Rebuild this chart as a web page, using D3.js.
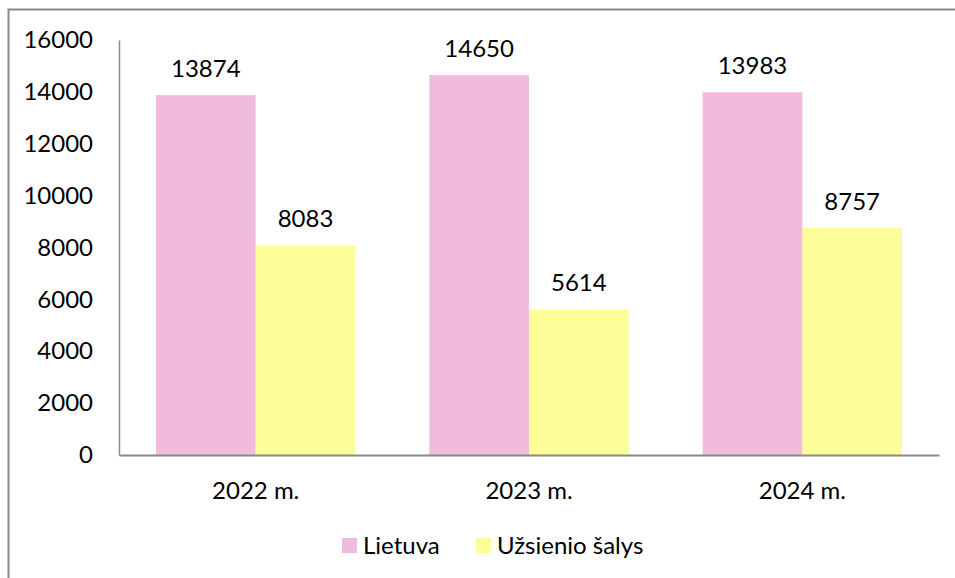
<!DOCTYPE html>
<html><head><meta charset="utf-8">
<script src="https://cdn.jsdelivr.net/npm/d3@7/dist/d3.min.js"></script>
<style>body{margin:0;background:#fff}svg{display:block}text{font-family:Lato,"Open Sans",sans-serif;fill:#000}</style>
</head><body><svg id="c" width="955" height="578"></svg>
<script>
const categories = ["2022 m.", "2023 m.", "2024 m."];
const seriesNames = ["Lietuva", "Užsienio šalys"];
const lietuva = [13874, 14650, 13983];
const uzsienio = [8083, 5614, 8757];
const yTicks = [0, 2000, 4000, 6000, 8000, 10000, 12000, 14000, 16000];
const colors = ["#F1BCDB", "#FDFD99"];
const FS = 24;

const svg = d3.select("#c");
// outer chart frame (top & left visible)
svg.append("rect").attr("x", 8.5).attr("y", 9.5).attr("width", 960).attr("height", 600)
  .attr("fill", "none").attr("stroke", "#8a8a8a").attr("stroke-width", 2);

const pLeft = 119, pRight = 939, pTop = 40, pBottom = 455;
const x = d3.scaleBand().domain(categories).range([pLeft, pRight]).paddingInner(0.2706).paddingOuter(0.1353);
const xs = d3.scaleBand().domain(seriesNames).range([0, x.bandwidth()]);
const y = d3.scaleLinear().domain([0, 16000]).range([pBottom, pTop]);

const data = categories.map((c, i) => ({cat: c, vals: [lietuva[i], uzsienio[i]]}));

const g = svg.selectAll("g.grp").data(data).join("g").attr("class", "grp")
  .attr("transform", d => `translate(${x(d.cat)},0)`);
g.selectAll("rect").data(d => d.vals.map((v, j) => ({v, s: seriesNames[j], j})))
  .join("rect")
  .attr("x", d => xs(d.s)).attr("width", xs.bandwidth())
  .attr("y", d => y(d.v)).attr("height", d => y(0) - y(d.v))
  .attr("fill", d => colors[d.j]);
g.selectAll("text.val").data(d => d.vals.map((v, j) => ({v, s: seriesNames[j]})))
  .join("text").attr("class", "val")
  .attr("x", d => xs(d.s) + xs.bandwidth() / 2).attr("y", d => y(d.v) - 18)
  .attr("text-anchor", "middle").attr("font-size", FS).text(d => d.v);

// y axis
const yAxis = d3.axisLeft(y).tickValues(yTicks).tickSize(0).tickPadding(26).tickFormat(d3.format("d"));
const ya = svg.append("g").attr("transform", `translate(${pLeft},0)`).call(yAxis);
ya.select(".domain").attr("stroke", "#8a8a8a").attr("stroke-width", 1.5);
ya.selectAll("text").attr("font-size", FS).attr("font-family", "Lato,'Open Sans',sans-serif").attr("fill", "#000");

// x axis
const xAxis = d3.axisBottom(x).tickSize(0).tickPadding(27);
const xa = svg.append("g").attr("transform", `translate(0,${pBottom})`).call(xAxis);
xa.select(".domain").attr("stroke", "#8a8a8a").attr("stroke-width", 2);
xa.selectAll("text").attr("font-size", FS).attr("font-family", "Lato,'Open Sans',sans-serif").attr("fill", "#000");

// legend
const legX = [342, 476];
const lg = svg.selectAll("g.leg").data(seriesNames).join("g").attr("class", "leg")
  .attr("transform", (d, i) => `translate(${legX[i]},538)`);
lg.append("rect").attr("width", 15).attr("height", 15).attr("fill", (d, i) => colors[i]);
lg.append("text").attr("x", 21).attr("y", 16).attr("font-size", FS).text(d => d);
</script></body></html>
